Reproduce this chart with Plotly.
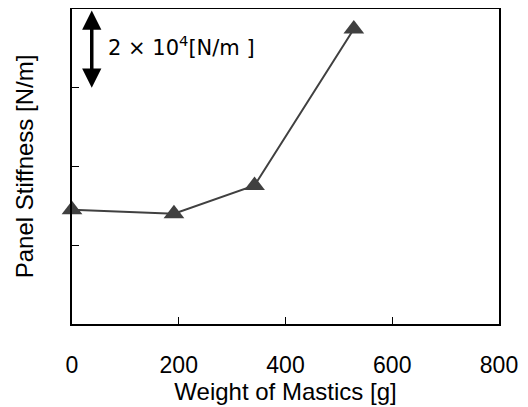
import plotly.graph_objects as go

# Data
weight_g = [0, 191, 342, 528]
stiffness = [2.90e4, 2.80e4, 3.52e4, 7.49e4]
x_ticks = [0, 200, 400, 600, 800]
x_tick_labels = ["0", "200", "400", "600", "800"]
y_ticks = [0, 2e4, 4e4, 6e4, 8e4]

FONT = "Arial, Liberation Sans, Helvetica, sans-serif"
DARK = "#404040"

fig = go.Figure()
fig.add_trace(go.Scatter(
    x=weight_g, y=stiffness, mode="lines+markers",
    line=dict(color=DARK, width=2),
    marker=dict(symbol="triangle-up", size=18, color=DARK),
    showlegend=False, cliponaxis=False,
))

# scale arrow: one tick interval (2 x 10^4 N/m)
fig.add_annotation(
    x=37, y=y_ticks[3], ax=37, ay=y_ticks[4],
    xref="x", yref="y", axref="x", ayref="y",
    text="", showarrow=True, arrowside="end+start",
    arrowhead=2, arrowsize=1.1, arrowwidth=3.5, arrowcolor="black",
    standoff=0, startstandoff=0,
)
fig.add_annotation(
    x=64, y=7.06e4, xref="x", yref="y",
    text="2 × 10<sup>4</sup>[N/m ]", showarrow=False,
    xanchor="left", yanchor="middle",
    font=dict(family="DejaVu Sans", size=21, color="black"),
)

# page body has an 8px default margin, so the figure is sized to fit inside
fig.update_layout(
    width=520, height=399,
    margin=dict(l=64, r=29, t=1, b=83),
    paper_bgcolor="white", plot_bgcolor="white",
    font=dict(family=FONT, size=24, color="black"),
)
fig.update_xaxes(
    range=[0, 800], tickvals=x_ticks, ticktext=x_tick_labels,
    showgrid=False, zeroline=False,
    showline=True, mirror=True, linecolor="black", linewidth=1.5,
    ticks="inside", ticklen=7, tickwidth=1, tickcolor="black",
    tickfont=dict(family=FONT, size=23),
    ticklabelstandoff=20,
    title=dict(text="Weight of Mastics [g]", standoff=4,
               font=dict(family=FONT, size=24)),
    automargin=False,
)
fig.update_yaxes(
    range=[0, 8e4], tickvals=y_ticks, showticklabels=False,
    showgrid=False, zeroline=False,
    showline=True, mirror=True, linecolor="black", linewidth=1.5,
    ticks="inside", ticklen=7, tickwidth=1, tickcolor="black",
    title=dict(text="Panel Stiffness [N/m]", standoff=30,
               font=dict(family=FONT, size=24)),
    automargin=False,
)

fig.write_html("out.html")
